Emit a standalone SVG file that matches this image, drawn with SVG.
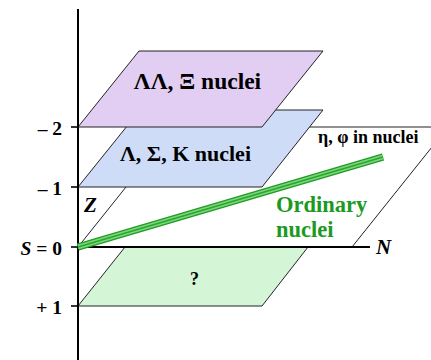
<svg xmlns="http://www.w3.org/2000/svg" width="431" height="360" viewBox="0 0 431 360" font-family="Liberation Serif, serif">
<style>
.plane{stroke:#222;stroke-width:1;stroke-linejoin:miter}
.t{font-weight:bold;fill:#000}
.lbl{font-size:19.5px;text-anchor:end}
.tick{stroke:#000;stroke-width:1.6}
</style>
<rect width="431" height="360" fill="#fff"/>
<g id="plane-s0">
<polygon class="plane" points="78,247 174,127 448,127 352,247" fill="#fff"/>
</g>
<g id="plane-s-1">
<polygon class="plane" points="78,187 140,110 323,110 262,187" fill="#cfdcf8"/>
<text class="t" x="185.5" y="161" font-size="22" text-anchor="middle" font-family="Liberation Serif, serif">Λ, Σ, K nuclei</text>
</g>
<g id="plane-s-2">
<polygon class="plane" points="78,127 139,51 323,51 262,127" fill="#e2cdf3"/>
<text class="t" x="197.5" y="89" font-size="23.5" text-anchor="middle" font-family="Liberation Serif, serif">ΛΛ, Ξ nuclei</text>
</g>
<g id="plane-s1">
<polygon class="plane" points="78,306 125,247 308,247 262,306" fill="#d4f5d6"/>
<text class="t" x="194.5" y="285" font-size="18" text-anchor="middle" font-family="Liberation Serif, serif">?</text>
</g>
<g id="connectors">
<line x1="78" y1="9" x2="78" y2="360" stroke="#000" stroke-width="2"/>
<line x1="78" y1="247" x2="370" y2="247" stroke="#000" stroke-width="2"/>
<line class="tick" x1="71" y1="127" x2="78" y2="127"/>
<line class="tick" x1="71" y1="187" x2="78" y2="187"/>
<line class="tick" x1="71" y1="247" x2="78" y2="247"/>
<line class="tick" x1="71" y1="306" x2="78" y2="306"/>
<g id="ordinary-line" stroke-linecap="butt">
<line x1="78" y1="247" x2="383" y2="157" stroke="#1f9c22" stroke-width="7.5"/>
<line x1="78" y1="247" x2="383" y2="157" stroke="#7dd67f" stroke-width="4.5"/>
<line x1="78" y1="247" x2="383" y2="157" stroke="#2aa62c" stroke-width="1.5"/>
</g>
</g>
<g id="labels" font-family="Liberation Serif, serif">
<text class="t lbl" x="62" y="135">– 2</text>
<text class="t lbl" x="62" y="195">– 1</text>
<text class="t lbl" x="62" y="255"><tspan font-style="italic">S</tspan> = 0</text>
<text class="t lbl" x="62" y="314">+ 1</text>
<text class="t" x="84" y="212" font-size="21" font-style="italic">Z</text>
<text class="t" x="376" y="254" font-size="21" font-style="italic">N</text>
<text class="t" x="318" y="143" font-size="18">η, φ in nuclei</text>
<text class="t" x="276" y="212" font-size="22.5" style="fill:#1a9a1e">Ordinary</text>
<text class="t" x="276" y="237" font-size="22.5" style="fill:#1a9a1e">nuclei</text>
</g>
</svg>
